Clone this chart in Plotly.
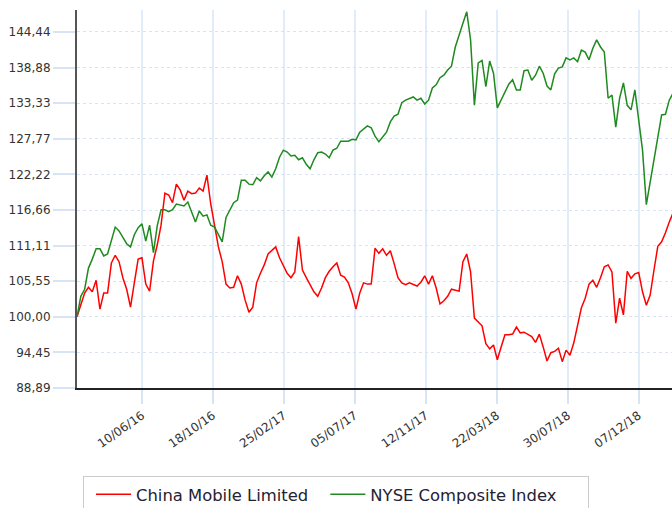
import pandas as pd
import plotly.graph_objects as go

# weekly observations, indexed to 100 at the start
dates = pd.date_range("2016-02-12", periods=157, freq="7D")

china_mobile = [
    100.0, 101.8, 103.7, 104.6, 103.9, 105.7, 101.2, 103.7, 103.7, 108.4,
    109.6, 108.6, 106.1, 104.3, 101.5, 105.3, 109.0, 109.2, 105.1, 104.0,
    108.7, 111.2, 114.3, 119.3, 119.0, 117.8, 120.7, 119.8, 118.2, 119.6,
    119.2, 119.3, 120.1, 119.6, 122.1, 117.6, 114.0, 110.9, 108.6, 105.1,
    104.5, 104.6, 106.4, 105.1, 102.6, 100.7, 101.5, 105.3, 106.8, 108.1,
    109.8, 110.4, 110.9, 109.2, 108.1, 106.8, 106.1, 107.0, 112.5, 107.3,
    106.1, 105.0, 103.9, 103.2, 104.5, 106.1, 107.1, 107.8, 108.4, 106.5,
    106.2, 105.3, 103.6, 101.2, 103.7, 105.3, 105.1, 105.1, 110.7, 109.9,
    110.6, 109.6, 110.3, 108.3, 106.1, 105.3, 105.0, 105.3, 105.0, 104.8,
    105.4, 106.4, 105.1, 106.4, 104.5, 102.0, 102.5, 103.2, 104.3, 104.2,
    104.0, 108.6, 109.8, 107.0, 99.8, 99.2, 98.6, 95.8, 95.0, 95.6,
    93.3, 95.3, 97.2, 97.2, 97.3, 98.4, 97.5, 97.6, 97.2, 96.9,
    96.0, 97.3, 95.3, 93.1, 94.4, 94.6, 95.1, 93.0, 94.8, 94.0,
    95.9, 98.7, 101.4, 102.9, 105.1, 105.7, 104.6, 106.1, 107.8, 108.1,
    107.0, 99.0, 102.9, 100.3, 107.1, 106.0, 106.7, 106.9, 103.9, 101.8,
    103.4, 107.3, 111.0, 111.7, 113.1, 114.8, 116.2,
]

nyse_composite = [
    100.0, 103.2, 104.3, 107.6, 109.0, 110.6, 110.6, 109.5, 109.8, 111.8,
    114.0, 113.4, 112.3, 111.4, 110.9, 112.8, 113.9, 114.5, 111.8, 114.3,
    110.0, 114.2, 116.7, 116.7, 116.4, 116.7, 117.6, 117.4, 117.3, 117.9,
    116.2, 114.8, 116.5, 115.7, 115.9, 114.3, 114.0, 112.9, 111.7, 115.5,
    116.7, 117.8, 118.2, 121.3, 121.3, 120.7, 120.6, 121.7, 121.2, 122.0,
    122.6, 121.8, 123.1, 124.9, 126.0, 125.7, 125.1, 125.2, 124.5, 124.8,
    123.8, 123.1, 124.5, 125.6, 125.7, 125.4, 124.8, 126.0, 126.3, 127.4,
    127.4, 127.4, 127.7, 127.6, 128.8, 129.3, 129.8, 129.5, 128.2, 127.3,
    128.1, 128.8, 130.4, 131.3, 131.6, 133.4, 133.8, 134.0, 134.3, 133.8,
    134.1, 133.2, 133.8, 135.7, 136.2, 137.3, 137.7, 138.5, 139.1, 142.1,
    144.1, 145.8, 147.6, 143.2, 133.0, 139.6, 140.0, 135.9, 139.9, 138.0,
    132.6, 133.8, 135.1, 136.3, 137.0, 135.4, 135.4, 138.4, 138.5, 136.9,
    137.7, 139.1, 138.0, 136.0, 135.4, 137.9, 138.8, 139.0, 140.4, 140.1,
    140.4, 139.8, 141.6, 141.3, 140.1, 141.9, 143.2, 142.1, 141.3, 134.1,
    134.6, 129.6, 134.1, 136.5, 133.0, 132.3, 135.4, 130.7, 126.0, 117.5,
    121.0, 124.5, 128.4, 131.5, 131.6, 133.8, 134.9,
]

series_names = ["China Mobile Limited", "NYSE Composite Index"]
series_colors = ["#ff0000", "#1f8a1f"]
# non-breaking spaces widen the legend entries like the original
legend_pad = ["\u00a0", "\u00a0\u00a0\u00a0\u00a0\u00a0"]

x_tick_dates = ["2016-06-10", "2016-10-18", "2017-02-25", "2017-07-05",
                "2017-11-12", "2018-03-22", "2018-07-30", "2018-12-07"]
x_tick_text = ["10/06/16", "18/10/16", "25/02/17", "05/07/17",
               "12/11/17", "22/03/18", "30/07/18", "07/12/18"]

y_tick_vals = [88.89, 94.45, 100.00, 105.55, 111.11, 116.66,
               122.22, 127.77, 133.33, 138.88, 144.44]
y_tick_text = ["88,89", "94,45", "100,00", "105,55", "111,11", "116,66",
               "122,22", "127,77", "133,33", "138,88", "144,44"]

FONT = "DejaVu Sans, Verdana, sans-serif"

fig = go.Figure()
for name, pad, vals, col in zip(series_names, legend_pad,
                                [china_mobile, nyse_composite], series_colors):
    fig.add_trace(go.Scatter(x=dates, y=vals, mode="lines", name=name + pad,
                             line=dict(color=col, width=1.5)))

fig.update_layout(
    width=672, height=508,
    margin=dict(l=77, r=0, t=10, b=120, autoexpand=False),
    paper_bgcolor="white", plot_bgcolor="white",
    font=dict(family=FONT, size=12, color="#333333"),
    showlegend=True,
    legend=dict(
        orientation="h", x=0.0101, xanchor="left", y=-0.2328, yanchor="top",
        bordercolor="#cccccc", borderwidth=1, bgcolor="white",
        font=dict(family=FONT, size=16.4, color="#222233"),
        itemwidth=35, indentation=7,
    ),
)

fig.update_xaxes(
    range=["2016-02-12", "2019-02-06"],
    tickmode="array", tickvals=x_tick_dates, ticktext=x_tick_text,
    tickangle=-35,
    showgrid=True, gridcolor="#e1ecf9", gridwidth=1.5,
    ticks="outside", ticklen=14, tickcolor="#d6e4f5", tickwidth=1.5,
    showline=True, linecolor="#222222", linewidth=2,
    tickfont=dict(family=FONT, size=12, color="#333333"),
    zeroline=False,
)
fig.update_yaxes(
    range=[88.89, 147.87],
    tickmode="array", tickvals=y_tick_vals, ticktext=y_tick_text,
    showgrid=True, gridcolor="#d6e4f5", gridwidth=1, griddash="dot",
    ticks="outside", ticklen=22, tickcolor="#d6e4f5", tickwidth=1.5,
    showline=True, linecolor="#555555", linewidth=2,
    tickfont=dict(family=FONT, size=12, color="#333333"),
    zeroline=False,
)

fig.write_html(
    "out.html",
    config={"displayModeBar": False},
    post_script="document.body.style.margin='0px';document.body.style.overflow='hidden';",
)
